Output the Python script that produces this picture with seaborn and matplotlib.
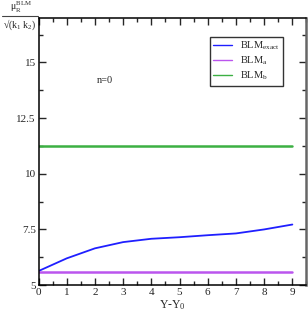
import numpy as np
import pandas as pd
import matplotlib
matplotlib.use('Agg')
import matplotlib.pyplot as plt
import seaborn as sns
from matplotlib.lines import Line2D
from matplotlib.ticker import MultipleLocator, FuncFormatter

# data
y_shift = [0, 1, 2, 3, 4, 5, 6, 7, 8, 9]
blm_exact = [5.63, 6.2, 6.65, 6.93, 7.08, 7.15, 7.24, 7.32, 7.5, 7.72]
blm_a = [5.6] * 10
blm_b = [11.25] * 10

df = pd.DataFrame({
    'Y': y_shift * 3,
    'mu': blm_exact + blm_a + blm_b,
    'curve': ['exact'] * 10 + ['a'] * 10 + ['b'] * 10,
})

sns.set_style('ticks')
plt.rcParams['font.family'] = ['Liberation Serif', 'DejaVu Serif']
plt.rcParams['mathtext.fontset'] = 'custom'
plt.rcParams['mathtext.rm'] = 'Liberation Serif'
plt.rcParams['mathtext.it'] = 'Liberation Serif'
plt.rcParams['mathtext.bf'] = 'Liberation Serif'

fig = plt.figure(figsize=(3.08, 3.15), dpi=100)
ax = fig.add_axes([0.125, 0.095, 0.87, 0.848])

palette = {'exact': '#1f1fff', 'a': '#bb55ee', 'b': '#3cb043'}
sns.lineplot(data=df, x='Y', y='mu', hue='curve', palette=palette, ax=ax, legend=False)
for line, lw in zip(ax.lines, [1.3, 1.8, 1.8]):
    line.set_linewidth(lw)

ax.set_xlim(0, 9.5)
ax.set_ylim(5, 17)
ax.xaxis.set_major_locator(MultipleLocator(1))
ax.xaxis.set_minor_locator(MultipleLocator(0.5))
ax.yaxis.set_major_locator(MultipleLocator(2.5))
ax.yaxis.set_minor_locator(MultipleLocator(1.25))
ax.xaxis.set_major_formatter(FuncFormatter(lambda v, p: '' if v > 9.01 else f'{v:g}'))
ax.yaxis.set_major_formatter(FuncFormatter(lambda v, p: '' if v > 15.01 else f'{v:g}'))
ax.tick_params(which='both', direction='in', top=True, right=True, labelsize=8, pad=2)
ax.tick_params(which='major', length=5, width=1)
ax.tick_params(which='minor', length=3, width=1)
for s in ['left', 'bottom', 'top']:
    ax.spines[s].set_linewidth(1.1)
    ax.spines[s].set_color('black')
ax.spines['right'].set_linewidth(1.8)
ax.spines['right'].set_color('#666666')

ax.set_xlabel('Y-Y$_0$', fontsize=8.5, labelpad=1)
ax.set_ylabel('')

# y label drawn as a fraction in the top-left corner
fig.text(0.07, 0.952, r'$\mu_{\rm R}^{\rm BLM}$', ha='center', va='bottom', fontsize=7)
fig.add_artist(Line2D([0.008, 0.122], [0.950, 0.950], color='#444444', lw=0.8,
                      transform=fig.transFigure))
fig.text(0.062, 0.943, '√' + r'$\rm(k_1\ k_2)$', ha='center', va='top', fontsize=7)

ax.text(2.35, 14.2, 'n=0', fontsize=7.5, ha='center', va='center')

handles = ax.lines[:3]
labels = [r'BLM$_{\rm exact}$', r'BLM$_{\rm a}$', r'BLM$_{\rm b}$']
leg = ax.legend(handles, labels, loc='upper left', bbox_to_anchor=(0.64, 0.93),
                fontsize=7.5, frameon=True, fancybox=False, handlelength=1.8,
                borderpad=0.3, labelspacing=0.25, handletextpad=0.8, borderaxespad=0)
leg.get_frame().set_edgecolor('black')
leg.get_frame().set_linewidth(1)
for h in leg.get_lines():
    h.set_linewidth(1.0)

fig.savefig('out.png', dpi=100)
